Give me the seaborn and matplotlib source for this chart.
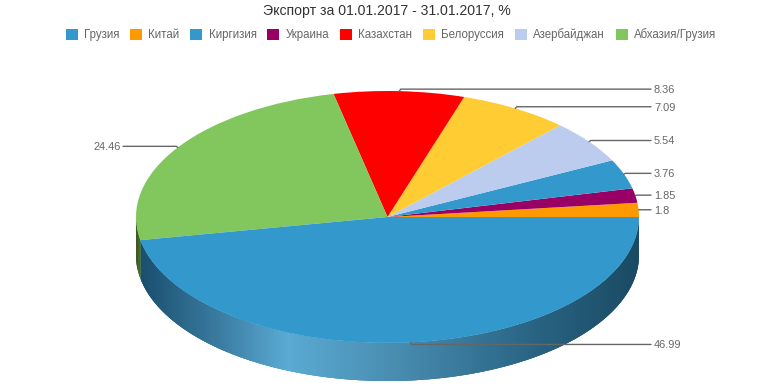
import matplotlib
matplotlib.use("Agg")
import matplotlib.pyplot as plt
import numpy as np
import seaborn as sns
from matplotlib.collections import PolyCollection
from matplotlib.colors import LinearSegmentedColormap
from matplotlib.patches import Patch

title = "Экспорт за 01.01.2017 - 31.01.2017, %"

legend_names = ["Грузия", "Китай", "Киргизия", "Украина", "Казахстан",
                "Белоруссия", "Азербайджан", "Абхазия/Грузия"]
legend_colors = ["#3399cc", "#ff9900", "#3399cc", "#990066", "#ff0000",
                 "#ffcc33", "#bbccee", "#82c65e"]

# pie runs counter clockwise from 3 o'clock, the big slice is last
pie_names = ["Китай", "Украина", "Киргизия", "Азербайджан", "Белоруссия",
             "Казахстан", "Абхазия/Грузия", "Грузия"]
pie_values = [1.8, 1.85, 3.76, 5.54, 7.09, 8.36, 24.46, 46.99]
pie_labels = ["1.8", "1.85", "3.76", "5.54", "7.09", "8.36", "24.46", "46.99"]

sns.set_style("white")
plt.rcParams["font.family"] = ["Liberation Sans", "DejaVu Sans"]

# pixel geometry of the ellipse
W, H = 774, 387
cx, cy = 387.5, 217
rx, ry = 251.5, 126
depth = 38 / ry
px = 1 / rx
py = 1 / ry

fig = plt.figure(figsize=(W / 100, H / 100), dpi=100)
ax = fig.add_axes([0, 0, 1, 1])

palette = dict(zip(legend_names, legend_colors))
total = sum(pie_values)
wedges, _ = ax.pie(pie_values, colors=[palette[n] for n in pie_names], startangle=0,
                   counterclock=True, radius=1, normalize=True,
                   wedgeprops={"linewidth": 0, "zorder": 3})

bounds = 360 * np.cumsum([0] + pie_values) / total


def side(a0, a1, stops, name):
    # wall of the cylinder as thin quads, each one overlaps the next to hide seams
    t = np.radians(np.linspace(a0, a1, 300))
    xs, ys = np.cos(t), np.sin(t)
    verts = []
    for i in range(len(t) - 1):
        j = min(i + 3, len(t) - 1)
        arc = list(zip(xs[i:j + 1], ys[i:j + 1]))
        low = list(zip(xs[i:j + 1][::-1], ys[i:j + 1][::-1] - depth))
        verts.append(arc + low)
    cmap = LinearSegmentedColormap.from_list(name, stops)
    wall = PolyCollection(verts, array=(xs[:-1] + xs[1:]) / 4 + 0.5, cmap=cmap, clim=(0, 1),
                          edgecolors="none", linewidths=0, antialiaseds=True, zorder=2)
    wall.set_snap(False)
    ax.add_collection(wall)


side(bounds[-2], 360, [(0, "#1a4d6b"), (0.02, "#1c5272"), (0.17, "#3c7ea3"),
                       (0.30, "#5aaad3"), (0.50, "#4a8fb3"), (0.78, "#2a6585"),
                       (1, "#1a4a63")], "blue_side")
side(180, bounds[-2], [(0, "#3d5a22"), (0.012, "#56803a"), (1, "#56803a")], "green_side")

# leader lines
mids = (bounds[:-1] + bounds[1:]) / 2
for mid, label in zip(mids, pie_labels):
    t = np.radians(mid)
    x0, y0 = np.cos(t), np.sin(t)
    ly = y0 + 2 * np.sin(t) * py
    right = np.cos(t) > -0.5
    x_end = (651 - cx) * px if right else (123 - cx) * px
    x_txt = (654 - cx) * px if right else (121 - cx) * px
    elbow = x0 + (1.5 * px if right else -1.5 * px)
    ax.plot([x0, elbow, x_end], [y0, ly, ly], color="#666666", lw=1, zorder=4,
            solid_joinstyle="miter")
    ax.text(x_txt, ly, label, color="#666666", fontsize=7.92, va="center_baseline",
            ha="left" if right else "right", zorder=5)

ax.set_aspect("auto")
ax.set_xlim(-cx * px, (W - cx) * px)
ax.set_ylim(-(H - cy) * py, cy * py)
ax.axis("off")

ax.text(387 / W, 1 - 11.5 / H, title, transform=ax.transAxes, ha="center", va="center",
        fontsize=10.1, color="#333333")

handles = [Patch(facecolor=c, edgecolor="none", label=n) for n, c in zip(legend_names, legend_colors)]
leg = ax.legend(handles=handles, ncol=len(handles), loc="center", frameon=False,
                bbox_to_anchor=(391 / W, 1 - 35 / H), bbox_transform=ax.transAxes,
                fontsize=8.3, labelcolor="#666666", handlelength=1.04, handleheight=1.04,
                handletextpad=0.55, columnspacing=0.93, borderpad=0, borderaxespad=0)

fig.savefig("out.png", dpi=100)
